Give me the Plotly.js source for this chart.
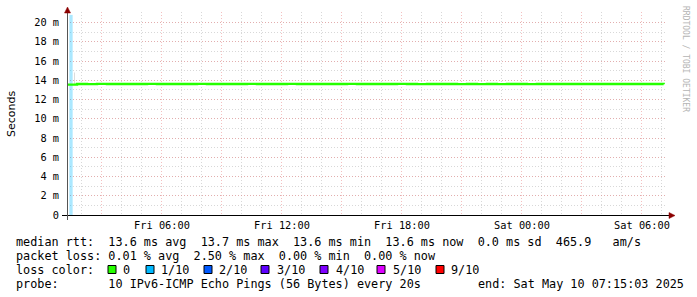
<!DOCTYPE html>
<html><head><meta charset="utf-8">
<script src="https://cdn.plot.ly/plotly-3.0.1.min.js"></script>
<style>html,body{margin:0;padding:0;background:#fff}#c{width:697px;height:297px}</style>
</head><body><div id="c"></div>
<script>
// ---- data ----
var times = ["2025-05-09 01:16","2025-05-09 01:45","2025-05-09 02:15","2025-05-09 02:45","2025-05-09 03:15","2025-05-09 03:45","2025-05-09 04:15","2025-05-09 04:45","2025-05-09 05:15","2025-05-09 05:45",
"2025-05-09 06:15","2025-05-09 06:45","2025-05-09 07:15","2025-05-09 07:45","2025-05-09 08:15","2025-05-09 08:45","2025-05-09 09:15","2025-05-09 09:45","2025-05-09 10:15","2025-05-09 10:45",
"2025-05-09 11:15","2025-05-09 11:45","2025-05-09 12:15","2025-05-09 12:45","2025-05-09 13:15","2025-05-09 13:45","2025-05-09 14:15","2025-05-09 14:45","2025-05-09 15:15","2025-05-09 15:45",
"2025-05-09 16:15","2025-05-09 16:45","2025-05-09 17:15","2025-05-09 17:45","2025-05-09 18:15","2025-05-09 18:45","2025-05-09 19:15","2025-05-09 19:45","2025-05-09 20:15","2025-05-09 20:45",
"2025-05-09 21:15","2025-05-09 21:45","2025-05-09 22:15","2025-05-09 22:45","2025-05-09 23:15","2025-05-09 23:45","2025-05-10 00:15","2025-05-10 00:45","2025-05-10 01:15","2025-05-10 01:45",
"2025-05-10 02:15","2025-05-10 02:45","2025-05-10 03:15","2025-05-10 03:45","2025-05-10 04:15","2025-05-10 04:45","2025-05-10 05:15","2025-05-10 05:45","2025-05-10 06:15","2025-05-10 06:45","2025-05-10 07:05"];
var medianRtt = [13.55,13.62,13.60,13.63,13.62,13.61,13.62,13.62,13.63,13.62,
13.62,13.61,13.62,13.63,13.62,13.62,13.61,13.62,13.63,13.62,
13.62,13.61,13.63,13.62,13.62,13.61,13.62,13.62,13.63,13.62,
13.61,13.62,13.62,13.63,13.62,13.60,13.61,13.62,13.61,13.60,
13.61,13.60,13.61,13.60,13.61,13.61,13.60,13.61,13.62,13.61,
13.61,13.62,13.61,13.62,13.61,13.62,13.61,13.62,13.61,13.61,13.60];
var lossTimes = ["2025-05-09 01:27"];
var lossValues = [20.8];
var smokeTimes = ["2025-05-09 01:37"];
var smokeLow = [13.5];
var smokeHigh = [14.8];
var yTickVals = [0,2,4,6,8,10,12,14,16,18,20];
var yTickText = ["0","2 m","4 m","6 m","8 m","10 m","12 m","14 m","16 m","18 m","20 m"];
var statLines = [
 "median rtt:  13.6 ms avg  13.7 ms max  13.6 ms min  13.6 ms now  0.0 ms sd  465.9   am/s",
 "packet loss: 0.01 % avg  2.50 % max  0.00 % min  0.00 % now"
];
var lossLabels = ["0","1/10","2/10","3/10","4/10","5/10","9/10"];
var lossColors = ["#26ff00","#00b8ff","#0059ff","#5e00ff","#7e00ff","#dd00ff","#ff0000"];
var probeText = "probe:       10 IPv6-ICMP Echo Pings (56 Bytes) every 20s";
var endText = "end: Sat May 10 07:15:03 2025";

// ---- layout helpers ----
var L=67, R=667, T=12, B=215;
function px(x){return (x-L)/(R-L);}
function py(y){return (B-y)/(B-T);}
var mono = "DejaVu Sans Mono";

var traces = [
 {type:'bar', x:lossTimes, y:lossValues, width:600000, marker:{color:'rgba(0,184,255,0.33)', line:{width:0}}, hoverinfo:'skip'},
 {type:'bar', x:smokeTimes, y:smokeHigh.map(function(v,i){return v-smokeLow[i];}), base:smokeLow, width:100000, marker:{color:'rgba(150,150,150,0.6)', line:{width:0}}, hoverinfo:'skip'},
 {type:'scatter', mode:'lines', x:times, y:medianRtt, line:{color:'#26ff00', width:2.4, shape:'hv'}, hoverinfo:'skip'}
];

var ann = [];
ann.push({xref:'paper',yref:'paper',x:px(11),y:py(114),text:'Seconds',textangle:-90,showarrow:false,font:{family:'DejaVu Sans',size:11,color:'#000'},xanchor:'center',yanchor:'middle'});
ann.push({xref:'paper',yref:'paper',x:px(686),y:py(59),text:'RRDTOOL / TOBI OETIKER',textangle:90,showarrow:false,font:{family:mono,size:8,color:'#b4b4b4'},xanchor:'center',yanchor:'middle'});
ann.push({xref:'paper',yref:'paper',x:px(15),y:py(241.5),text:statLines[0].replace(/ /g,'&nbsp;'),showarrow:false,font:{family:mono,size:11.8,color:'#000'},xanchor:'left',yanchor:'middle',borderpad:0});
ann.push({xref:'paper',yref:'paper',x:px(15),y:py(255.5),text:statLines[1].replace(/ /g,'&nbsp;'),showarrow:false,font:{family:mono,size:11.8,color:'#000'},xanchor:'left',yanchor:'middle',borderpad:0});
ann.push({xref:'paper',yref:'paper',x:px(15),y:py(269.5),text:'loss&nbsp;color:',showarrow:false,font:{family:mono,size:11.8,color:'#000'},xanchor:'left',yanchor:'middle',borderpad:0});
ann.push({xref:'paper',yref:'paper',x:px(15),y:py(283.5),text:probeText.replace(/ /g,'&nbsp;'),showarrow:false,font:{family:mono,size:11.8,color:'#000'},xanchor:'left',yanchor:'middle',borderpad:0});
ann.push({xref:'paper',yref:'paper',x:px(477),y:py(283.5),text:endText.replace(/ /g,'&nbsp;'),showarrow:false,font:{family:mono,size:11.8,color:'#000'},xanchor:'left',yanchor:'middle',borderpad:0});

var sqX = [108,146,204,261,320,377,436];
var labX = [122,160,218,276,335,392,450];
var shapes = [];
for (var i=0;i<lossLabels.length;i++){
  shapes.push({type:'rect',xref:'paper',yref:'paper',x0:px(sqX[i]),x1:px(sqX[i]+8),y0:py(273.5),y1:py(265.5),fillcolor:lossColors[i],line:{color:'#000',width:1}});
  ann.push({xref:'paper',yref:'paper',x:px(labX[i]),y:py(269.5),text:lossLabels[i],showarrow:false,font:{family:mono,size:11.8,color:'#000'},xanchor:'left',yanchor:'middle',borderpad:0});
}
// axes lines and arrows
shapes.push({type:'line',xref:'paper',yref:'paper',x0:px(62),x1:px(669),y0:py(215.5),y1:py(215.5),line:{color:'#000',width:1}});
shapes.push({type:'line',xref:'paper',yref:'paper',x0:px(67.5),x1:px(67.5),y0:py(220),y1:py(11),line:{color:'#555',width:1}});
shapes.push({type:'path',xref:'paper',yref:'paper',path:'M '+px(64.5)+' '+py(13)+' L '+px(70.5)+' '+py(13)+' L '+px(67.5)+' '+py(7)+' Z',fillcolor:'#8b0000',line:{color:'#8b0000',width:0.5}});
shapes.push({type:'path',xref:'paper',yref:'paper',path:'M '+px(669)+' '+py(212.5)+' L '+px(669)+' '+py(218.5)+' L '+px(675)+' '+py(215.5)+' Z',fillcolor:'#8b0000',line:{color:'#8b0000',width:0.5}});

var majorGrid = 'rgba(235,140,140,0.55)';
var minorGrid = 'rgba(190,190,190,0.6)';
var layout = {
 width:697, height:297,
 margin:{l:L, r:697-R, t:T, b:297-B, pad:0},
 paper_bgcolor:'#fff', plot_bgcolor:'#fff',
 showlegend:false, barmode:'overlay',
 xaxis:{type:'date', range:['2025-05-09 01:15:03','2025-05-10 07:15:03'],
   tickmode:'linear', tick0:'2025-05-09 00:00', dtick:10800000, ticklabelstep:2,
   tickformat:'%a %H:%M', tickfont:{family:mono,size:10.3,color:'#000'},
   showgrid:true, gridcolor:majorGrid, griddash:'1px,2px', gridwidth:1,
   minor:{tickmode:'linear', tick0:'2025-05-09 00:00', dtick:3600000, showgrid:true, gridcolor:minorGrid, griddash:'1px,2px', gridwidth:1},
   showline:false, zeroline:false, ticks:'', ticklabelstandoff:3, fixedrange:true},
 yaxis:{range:[0,21.1], tickmode:'array', tickvals:yTickVals, ticktext:yTickText,
   tickfont:{family:mono,size:10.3,color:'#000'},
   showgrid:true, gridcolor:majorGrid, griddash:'1px,2px', gridwidth:1,
   minor:{tickmode:'linear', tick0:0, dtick:1, showgrid:true, gridcolor:minorGrid, griddash:'1px,2px', gridwidth:1},
   showline:false, zeroline:false, ticks:'', ticklabelstandoff:7, fixedrange:true},
 annotations:ann, shapes:shapes
};
Plotly.newPlot('c', traces, layout, {staticPlot:true, displayModeBar:false});
</script></body></html>
